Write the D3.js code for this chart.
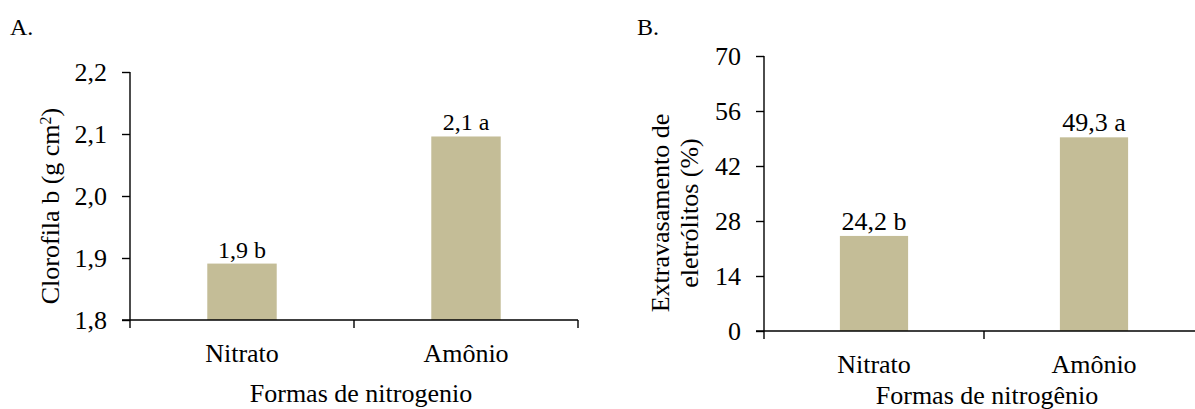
<!DOCTYPE html>
<html>
<head>
<meta charset="UTF-8">
<title>nitrogenio</title>
<script src="https://cdn.jsdelivr.net/npm/d3@7"></script>
<style>
  body { margin: 0; background: #fff; }
  svg text { font-family: "Liberation Serif", "Times New Roman", serif !important; fill: #000; }
</style>
</head>
<body>
<svg width="1195" height="409"></svg>
<script>
// dados
var categorias = ["Nitrato", "Amônio"];
var clorofilaB = [1.891, 2.096];
var clorofilaRotulos = ["1,9 b", "2,1 a"];
var clorofilaTicks = [1.8, 1.9, 2.0, 2.1, 2.2];
var extravasamento = [24.2, 49.3];
var extravasamentoRotulos = ["24,2 b", "49,3 a"];
var extravasamentoTicks = [0, 14, 28, 42, 56, 70];

var svg = d3.select("svg");
var cor = "#c4bd97";
var fmt = function(d){ return d3.format(".1f")(d).replace(".", ","); };

function painel(opt) {
  var g = svg.append("g").attr("font-family", "Liberation Serif");
  var x = d3.scaleBand().domain(categorias).range([opt.x0, opt.x1]).paddingInner(0).paddingOuter(0);
  var y = d3.scaleLinear().domain(opt.domain).range([opt.yb, opt.yt]);

  // barras
  var bw = x.bandwidth() * 0.31;
  g.selectAll("rect").data(opt.valores).enter().append("rect")
    .attr("x", function(d,i){ return x(categorias[i]) + x.bandwidth()/2 - bw/2; })
    .attr("y", function(d){ return y(d); })
    .attr("width", bw)
    .attr("height", function(d){ return y(opt.domain[0]) - y(d); })
    .attr("fill", cor);

  // rotulos das barras
  g.selectAll("text.rot").data(opt.valores).enter().append("text")
    .attr("class", "rot")
    .attr("x", function(d,i){ return x(categorias[i]) + x.bandwidth()/2; })
    .attr("y", function(d){ return y(d) - 6; })
    .attr("text-anchor", "middle")
    .style("font-size", opt.rotFonte)
    .text(function(d,i){ return opt.rotulos[i]; });

  // eixo y
  var ay = g.append("g").attr("transform", "translate(" + opt.x0 + ",0)")
    .call(d3.axisLeft(y).tickValues(opt.ticks).tickFormat(opt.fmt).tickSize(8).tickPadding(15));
  ay.select(".domain").attr("stroke", "#000").attr("stroke-width", 1.4).attr("d", "M0," + opt.yt + "V" + opt.yb);
  ay.selectAll(".tick line").attr("stroke", "#000").attr("stroke-width", 1.4);
  ay.selectAll(".tick text").attr("dy", "0.34em").style("font-size", "26px");

  // eixo x
  var ax = g.append("g").attr("transform", "translate(0," + opt.yb + ")");
  ax.append("line").attr("x1", opt.x0 - 8).attr("x2", opt.xEnd).attr("stroke", "#000").attr("stroke-width", 1.4);
  var cortes = [opt.x0, x(categorias[1]), opt.x1];
  ax.selectAll("line.tk").data(cortes).enter().append("line")
    .attr("class", "tk")
    .attr("x1", function(d){ return d; }).attr("x2", function(d){ return d; })
    .attr("y1", 0).attr("y2", 8)
    .attr("stroke", "#000").attr("stroke-width", 1.4);

  // categorias
  g.selectAll("text.cat").data(categorias).enter().append("text")
    .attr("class", "cat")
    .attr("x", function(d){ return x(d) + x.bandwidth()/2; })
    .attr("y", opt.catY)
    .attr("text-anchor", "middle")
    .style("font-size", "26px")
    .text(function(d){ return d; });

  // titulo x
  g.append("text")
    .attr("x", opt.titX).attr("y", opt.titY)
    .attr("text-anchor", "middle")
    .style("font-size", "26px")
    .text(opt.tituloX);

  // titulo y
  var ty = g.append("text")
    .attr("transform", "translate(" + opt.tyX + "," + opt.tyY + ") rotate(-90)")
    .attr("text-anchor", "middle")
    .style("font-size", "26px");
  opt.tituloY(ty);

  // letra do painel
  g.append("text").attr("x", opt.letraX).attr("y", 35).style("font-size", "24px").text(opt.letra);
}

painel({
  x0: 130, x1: 578, xEnd: 578, yt: 72, yb: 320,
  domain: [1.8, 2.2], ticks: clorofilaTicks, fmt: fmt,
  valores: clorofilaB, rotulos: clorofilaRotulos, rotFonte: "24px",
  catY: 362, titX: 361, titY: 402, tituloX: "Formas de nitrogenio",
  tyX: 59, tyY: 206, letraX: 10, letra: "A.",
  tituloY: function(t){
    t.append("tspan").text("Clorofila b (g cm");
    t.append("tspan").attr("baseline-shift", "super").style("font-size", "16px").text("2");
    t.append("tspan").text(")");
  }
});

painel({
  x0: 764, x1: 1204, xEnd: 1195, yt: 56, yb: 331,
  domain: [0, 70], ticks: extravasamentoTicks, fmt: d3.format("d"),
  valores: extravasamento, rotulos: extravasamentoRotulos, rotFonte: "26px",
  catY: 373, titX: 987, titY: 404, tituloX: "Formas de nitrogênio",
  tyX: 669, tyY: 213, letraX: 637, letra: "B.",
  tituloY: function(t){
    t.append("tspan").attr("x", 0).attr("dy", 0).text("Extravasamento de");
    t.append("tspan").attr("x", 0).attr("dy", 29).text("eletrólitos (%)");
  }
});
</script>
</body>
</html>
